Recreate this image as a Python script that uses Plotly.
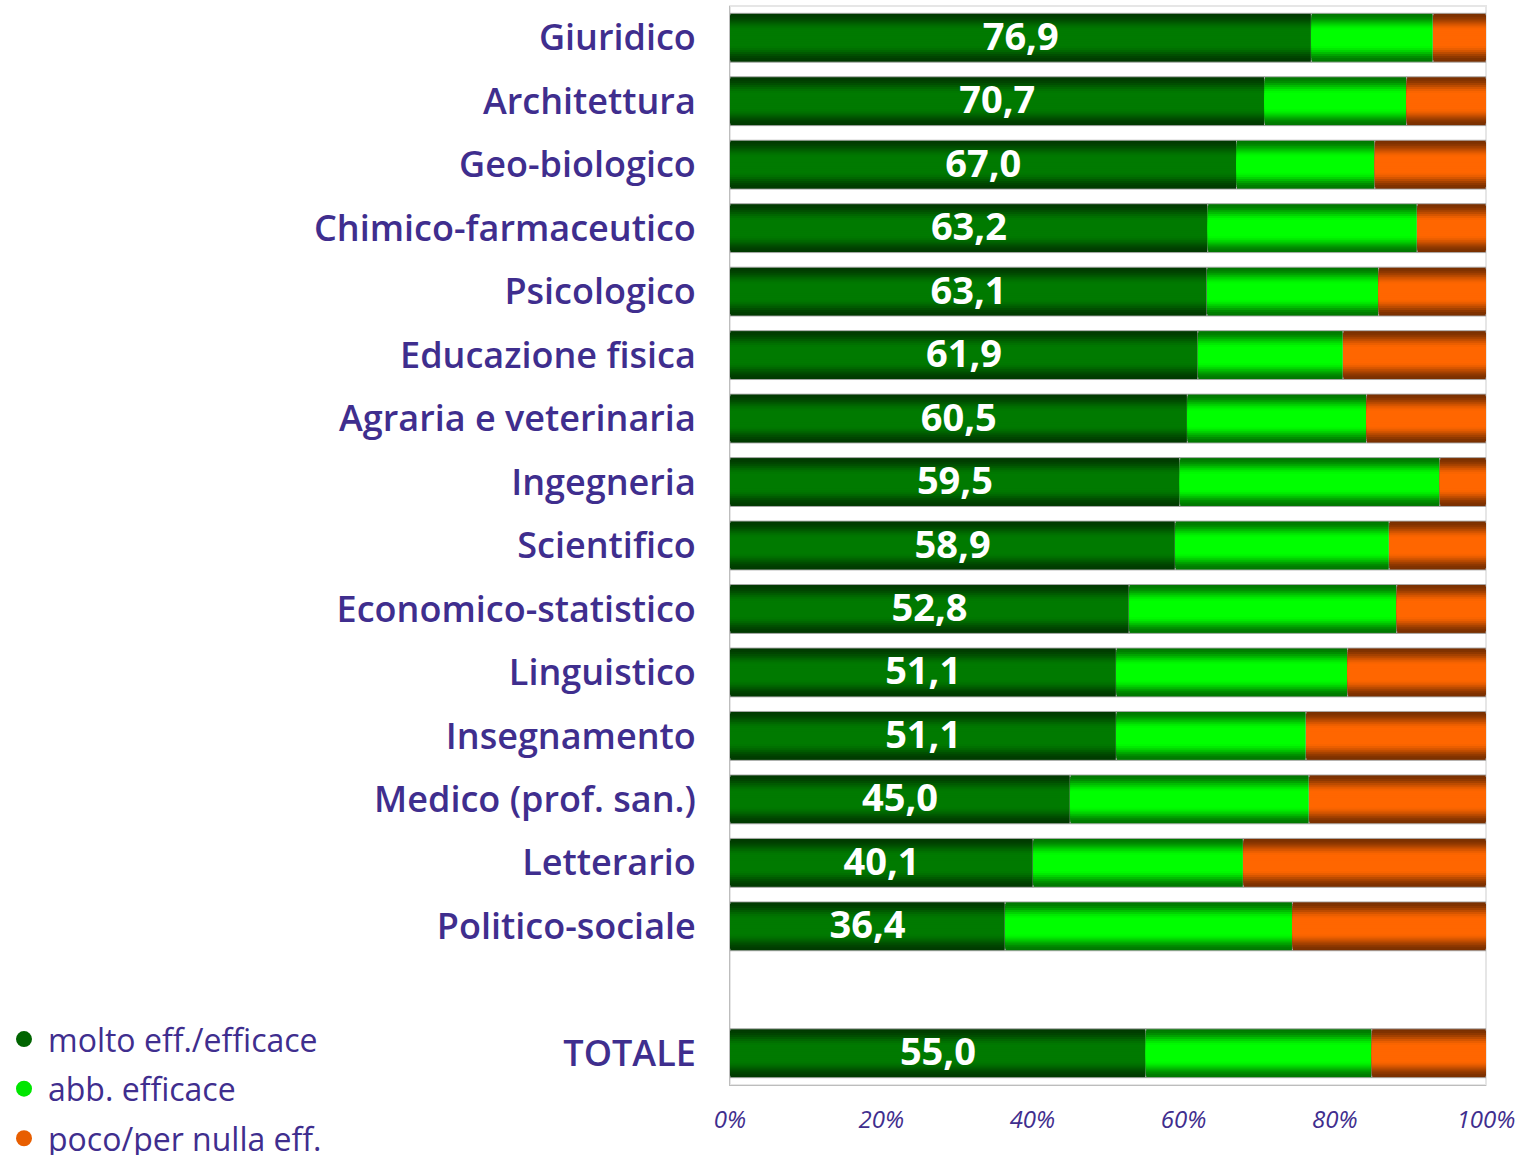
import plotly.graph_objects as go

categories = ["Giuridico", "Architettura", "Geo-biologico", "Chimico-farmaceutico",
              "Psicologico", "Educazione fisica", "Agraria e veterinaria", "Ingegneria",
              "Scientifico", "Economico-statistico", "Linguistico", "Insegnamento",
              "Medico (prof. san.)", "Letterario", "Politico-sociale", "TOTALE"]
molto = [76.9, 70.7, 67.0, 63.2, 63.1, 61.9, 60.5, 59.5, 58.9, 52.8, 51.1, 51.1, 45.0, 40.1, 36.4, 55.0]
abb = [16.1, 18.8, 18.3, 27.7, 22.7, 19.2, 23.7, 34.4, 28.3, 35.4, 30.6, 25.1, 31.6, 27.8, 38.0, 29.9]
poco = [7.0, 10.5, 14.7, 9.1, 14.2, 18.9, 15.8, 6.1, 12.8, 11.8, 18.3, 23.8, 23.4, 32.1, 25.6, 15.1]
series_names = ["molto eff./efficace", "abb. efficace", "poco/per nulla eff."]
tick_vals = [0, 20, 40, 60, 80, 100]
tick_text = ["0%", "20%", "40%", "60%", "80%", "100%"]

INK = "#3F2E8E"
FONT = "Open Sans"

# positions: 15 categories from top, a blank slot, then TOTALE
n = len(categories)
pos = [n - i for i in range(n - 1)] + [0]
top = max(pos)

# gradient colours (edge, centre) per series
grads = [((0, 58, 0), (0, 122, 0)),
         ((0, 120, 0), (0, 255, 0)),
         ((122, 48, 0), (255, 102, 0))]
legend_cols = ["#006400", "#00E600", "#E85E00"]

BW = 0.77
N = 12
RAMP = 8

fig = go.Figure()
series = [molto, abb, poco]
bases = [[0] * n, molto, [m + a for m, a in zip(molto, abb)]]


def mix(c0, c1, t):
    return "rgb(%d,%d,%d)" % tuple(round(a + (b - a) * t) for a, b in zip(c0, c1))


for s, (vals, base, (edge, centre)) in enumerate(zip(series, bases, grads)):
    for k in range(N):
        t = min(1.0, k / RAMP)
        t = t * t * (3 - 2 * t)
        w = BW * (1 - k / N)
        fig.add_trace(go.Bar(
            orientation="h", x=vals, y=pos, base=base, width=w,
            marker=dict(color=mix(edge, centre, t),
                        line=dict(width=1 if k == 0 else 0,
                                  color="rgba(170,170,170,0.9)")),
            showlegend=False, hoverinfo="skip"))

# value labels
fig.add_trace(go.Scatter(
    x=[m / 2 for m in molto], y=[p - 0.04 for p in pos], mode="text",
    text=[("%.1f" % m).replace(".", ",") for m in molto],
    textposition="middle center",
    textfont=dict(family=FONT, size=38, color="white", weight="bold"),
    showlegend=False, hoverinfo="skip"))

# legend entries
for name, col in zip(series_names, legend_cols):
    fig.add_trace(go.Scatter(
        x=[None], y=[None], mode="markers", name=name, legendgroup=name,
        marker=dict(symbol="circle", size=18, color=col,
                    line=dict(width=0))))

fig.update_layout(
    width=1517, height=1155,
    margin=dict(l=730, r=31, t=6, b=70, autoexpand=False),
    barmode="overlay",
    paper_bgcolor="white", plot_bgcolor="white",
    showlegend=True,
    legend=dict(xref="container", yref="container", x=0.0, y=0.124,
                xanchor="left", yanchor="top",
                font=dict(family=FONT, size=32, color=INK),
                itemsizing="trace", itemwidth=38, tracegroupgap=5,
                bgcolor="rgba(0,0,0,0)"),
    xaxis=dict(range=[0, 100], tickvals=tick_vals, ticktext=tick_text,
               showgrid=False, zeroline=False, showline=True,
               linecolor="#BDBDBD", linewidth=1, ticks="",
               ticklabelstandoff=13, automargin=False,
               tickfont=dict(family=FONT, size=24, color=INK, style="italic")),
    yaxis=dict(range=[-0.5, top + 0.5], tickvals=pos, ticktext=categories,
               showgrid=False, zeroline=False, showline=True,
               linecolor="#BDBDBD", linewidth=1, ticks="",
               ticklabelstandoff=26, automargin=False,
               tickfont=dict(family=FONT, size=36, color=INK, weight=600)),
    shapes=[dict(type="rect", xref="paper", yref="paper", x0=0, x1=1, y0=0, y1=1,
                 line=dict(color="#E6E6E6", width=2), layer="below")],
)

fig.write_html("out.html")
